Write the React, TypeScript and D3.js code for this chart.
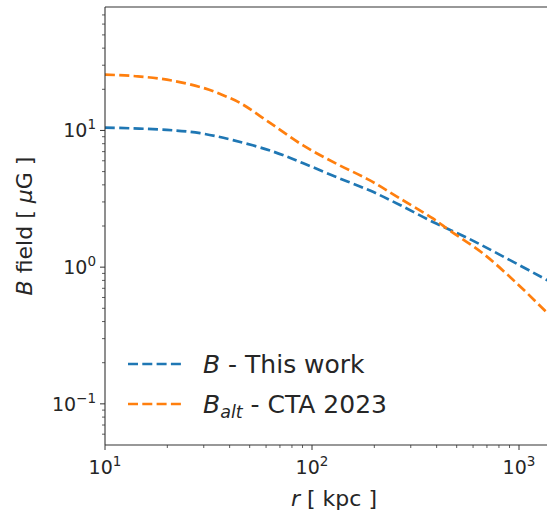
import React from "react";
import * as d3 from "d3";

const rBlue = [10, 19.9, 28.8, 41.5, 65, 90.8, 131.5, 190.6, 266, 384, 561, 810, 1365, 1580];
const bBlue = [10.5, 10.1, 9.55, 8.5, 7.0, 5.75, 4.55, 3.63, 2.85, 2.14, 1.64, 1.23, 0.805, 0.715];
const rOrange = [10, 14.4, 21, 30.4, 37.2, 44.9, 62.7, 90.6, 131.5, 190.6, 266, 384, 464, 670, 980, 1365, 1580];
const bOrange = [25.6, 24.9, 23.2, 20.3, 18.1, 15.9, 11.35, 7.77, 5.7, 4.31, 3.18, 2.27, 1.85, 1.26, 0.757, 0.465, 0.374];
const xMajor = [1, 2, 3];
const yMajor = [-1, 0, 1];
const legendLabels = [
  { main: "B", sub: "", rest: " - This work", color: "#1f77b4" },
  { main: "B", sub: "alt", rest: " - CTA 2023", color: "#ff7f0e" },
];

const W = 547, H = 514;
const L = 105, T = 7, B = 445;
const DEC_X = 207;
const XMIN = 10, XMAX = 1600;
const R = L + DEC_X * Math.log10(XMAX / XMIN);

export default function App() {
  const x = d3.scaleLog().domain([XMIN, XMAX]).range([L, R]);
  const y = d3.scaleLog().domain([0.05, 80]).range([B, T]);
  const line = d3
    .line<[number, number]>()
    .x((d) => x(d[0]))
    .y((d) => y(d[1]))
    .curve(d3.curveCatmullRom.alpha(0.5));
  const blue = rBlue.map((r, i) => [r, bBlue[i]] as [number, number]);
  const orange = rOrange.map((r, i) => [r, bOrange[i]] as [number, number]);

  const xMinor: number[] = [];
  for (let e = 1; e <= 3; e++) for (let k = 2; k <= 9; k++) {
    const v = k * Math.pow(10, e);
    if (v < XMAX) xMinor.push(v);
  }
  const yMinor: number[] = [];
  for (let e = -2; e <= 1; e++) for (let k = 2; k <= 9; k++) {
    const v = k * Math.pow(10, e);
    if (v > 0.05 && v < 80) yMinor.push(v);
  }
  const font = "DejaVu Sans";
  const axisColor = "#333";

  return (
    <svg width={W} height={H} style={{ position: "absolute", left: 0, top: 0, background: "#fff" }} fontFamily={font}>
      <defs>
        <clipPath id="plot">
          <rect x={L} y={T} width={R - L} height={B - T} />
        </clipPath>
      </defs>
      <g clipPath="url(#plot)">
        <path d={line(blue) || ""} fill="none" stroke="#1f77b4" strokeWidth={2.7} strokeDasharray="10,4.3" />
        <path d={line(orange) || ""} fill="none" stroke="#ff7f0e" strokeWidth={2.7} strokeDasharray="10,4.3" />
      </g>
      {/* spines */}
      <line x1={L} x2={L} y1={T} y2={B} stroke={axisColor} strokeWidth={1.1} />
      <line x1={L} x2={R} y1={B} y2={B} stroke={axisColor} strokeWidth={1.1} />
      <line x1={L} x2={R} y1={T} y2={T} stroke={axisColor} strokeWidth={1.1} />
      <line x1={R} x2={R} y1={T} y2={B} stroke={axisColor} strokeWidth={1.1} />
      {/* x ticks */}
      {xMajor.map((e) => (
        <g key={"xm" + e}>
          <line x1={x(Math.pow(10, e))} x2={x(Math.pow(10, e))} y1={B} y2={B + 5} stroke={axisColor} strokeWidth={1} />
          <text x={x(Math.pow(10, e))} y={474} fontSize={19} textAnchor="middle" fill="#262626">
            10<tspan dy={-8} fontSize={13.5}>{e}</tspan>
          </text>
        </g>
      ))}
      {xMinor.map((v) => (
        <line key={"xn" + v} x1={x(v)} x2={x(v)} y1={B} y2={B + 3} stroke={axisColor} strokeWidth={0.8} />
      ))}
      {/* y ticks */}
      {yMajor.map((e) => (
        <g key={"ym" + e}>
          <line x1={L - 5} x2={L} y1={y(Math.pow(10, e))} y2={y(Math.pow(10, e))} stroke={axisColor} strokeWidth={1} />
          <text x={96} y={y(Math.pow(10, e)) + 7} fontSize={19} textAnchor="end" fill="#262626">
            10<tspan dy={-8} fontSize={13.5}>{e === -1 ? "\u22121" : String(e)}</tspan>
          </text>
        </g>
      ))}
      {yMinor.map((v) => (
        <line key={"yn" + v} x1={L - 3} x2={L} y1={y(v)} y2={y(v)} stroke={axisColor} strokeWidth={0.8} />
      ))}
      {/* axis labels */}
      <text x={(L + 547) / 2 + 8} y={506} fontSize={22} textAnchor="middle" fill="#262626">
        <tspan fontStyle="italic">r</tspan> [ kpc ]
      </text>
      <text transform={`translate(32, ${(T + B) / 2}) rotate(-90)`} fontSize={22} textAnchor="middle" fill="#262626">
        <tspan fontStyle="italic">B</tspan> field [ <tspan fontStyle="italic">μ</tspan>G ]
      </text>
      {/* legend */}
      {legendLabels.map((lg, i) => {
        const ly = 364 + i * 40;
        return (
          <g key={"lg" + i}>
            <line x1={128} x2={181} y1={ly} y2={ly} stroke={lg.color} strokeWidth={2.7} strokeDasharray="10,4.3" />
            <text x={203} y={ly + 9} fontSize={25} fill="#262626">
              <tspan fontStyle="italic">{lg.main}</tspan>
              {lg.sub ? (
                <tspan fontStyle="italic" fontSize={17.5} dy={5}>{lg.sub}</tspan>
              ) : null}
              {lg.sub ? <tspan dy={-5}>{lg.rest}</tspan> : <tspan>{lg.rest}</tspan>}
            </text>
          </g>
        );
      })}
    </svg>
  );
}
